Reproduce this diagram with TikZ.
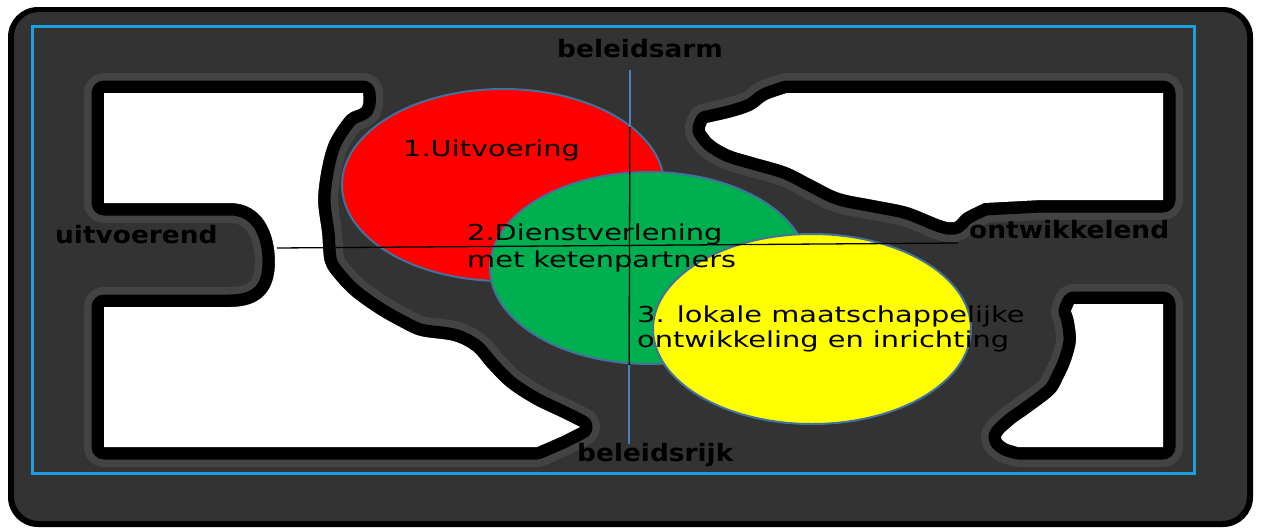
\documentclass[tikz,border=0pt]{standalone}
\usepackage{fontspec}
\setmainfont{DejaVu Sans}
\usepackage{graphicx}
\usetikzlibrary{shapes.geometric}
\definecolor{bggray}{HTML}{333333}
\definecolor{bandgray}{HTML}{434343}
\definecolor{frameblue}{HTML}{1BA1E2}
\definecolor{ellborder}{RGB}{65,113,156}
\definecolor{ellred}{HTML}{FF0000}
\definecolor{ellgreen}{HTML}{00B050}
\definecolor{ellyellow}{HTML}{FFFF00}
\definecolor{axisblue}{HTML}{4F81BD}
\newcommand\regionLeft{(104,93) -- plot[smooth,tension=0.55] coordinates {(363,93) (362,107) (347,115) (330,140) (322,167) (318,200) (322,233) (325,263) (337,281) (353,297) (377,314) (400,327) (420,336) (453,341) (473,351) (487,367) (507,387) (533,404) (560,417) (580,427)} -- (560,437) -- (537,447) -- (104,447) -- (104,307) -- (230,307) .. controls (262,307) and (275,290) .. (275,262) .. controls (275,232) and (262,203) .. (230,203) -- (104,203) -- cycle}
\newcommand\regionTopRight{(705,128) -- plot[smooth,tension=0.55] coordinates {(707,123) (733,117) (753,110) (767,100) (787,93)} -- (1163,93) -- (1163,200) -- (1041,200) -- plot[smooth,tension=0.55] coordinates {(984,203) (964,213) (954,222) (941,220) (908,207) (874,200) (840,193) (813,180) (787,167) (753,157) (730,150) (713,140) (705,130)} -- cycle}
\newcommand\regionBotRight{(1074,304) -- (1163,304) -- (1163,447) -- (1018,447) -- plot[smooth,tension=0.55] coordinates {(1008,444) (1001,437) (1014,424) (1028,414) (1054,394) (1064,377) (1071,361) (1076,341) (1074,321) (1071,311)} -- cycle}
\tikzset{
  band/.style={draw=bandgray, line width=40pt, line join=round},
  rim/.style={draw=black, line width=25pt, line join=round},
  hole/.style={fill=white},
  bubble/.style={draw=ellborder, line width=2pt, ellipse, inner sep=0pt},
  axis/.style={draw=black, line width=1.3pt},
  axisend/.style={draw=axisblue, line width=1.6pt},
  poslabel/.style={anchor=base west, inner sep=0pt, font=\fontsize{24}{28}\selectfont\bfseries},
  itemlabel/.style={anchor=base west, inner sep=0pt, font=\fontsize{22}{26}\selectfont},
}
\begin{document}
\begin{tikzpicture}[x=1pt,y=-1pt]
\useasboundingbox (0,0) rectangle (1261,528);
\fill[white] (0,0) rectangle (1261,528);
% dark glow background
\fill[black, rounded corners=30pt] (8,7) rectangle (1253,527);
\fill[bggray, rounded corners=25pt] (14,12) rectangle (1247,521);
% white holes with black rims
\path[band] \regionLeft;
\path[band] \regionTopRight;
\path[band] \regionBotRight;
\path[rim] \regionLeft;
\path[rim] \regionTopRight;
\path[rim] \regionBotRight;
\path[hole] \regionLeft;
\path[hole] \regionTopRight;
\path[hole] \regionBotRight;
% blue frame
\draw[frameblue, line width=3pt] (32,26) rectangle (1194,473);
% ellipses
\node[bubble, fill=ellred, minimum width=322pt, minimum height=192pt] (red) at (503,185) {};
\node[bubble, fill=ellgreen, minimum width=318pt, minimum height=192pt] (green) at (649,268) {};
\node[bubble, fill=ellyellow, minimum width=318pt, minimum height=190pt] (yellow) at (812,329) {};
% axes
\coordinate (vtop) at (630,70);
\coordinate (vbot) at (629,444);
\coordinate (vtopin) at (630,127);
\coordinate (vbotin) at (629,365);
\coordinate (hleft) at (277,248);
\coordinate (hright) at (958,243);
\draw[axis] (vtop) -- (vbot);
\draw[axisend] (vtop) -- (vtopin);
\draw[axisend] (vbotin) -- (vbot);
\draw[axis] (hleft) -- (hright);
% axis labels
\node[poslabel] (arm) at (557,57) {\scalebox{1.1}[1]{beleidsarm}};
\node[poslabel] (rijk) at (577,461) {\scalebox{1.1}[1]{beleidsrijk}};
\node[poslabel] (uit) at (55,243) {\scalebox{1.1}[1]{uitvoerend}};
\node[poslabel] (ont) at (969,238) {\scalebox{1.1}[1]{ontwikkelend}};
% item labels
\node[itemlabel] (t1) at (403,156) {\scalebox{1.31}[1]{1.Uitvoering}};
\node[itemlabel] (t2a) at (467,240) {\scalebox{1.31}[1]{2.Dienstverlening}};
\node[itemlabel] (t2b) at (467,267) {\scalebox{1.31}[1]{met ketenpartners}};
\node[itemlabel] (t3a) at (637,322) {\scalebox{1.31}[1]{3. lokale maatschappelijke}};
\node[itemlabel] (t3b) at (637,347) {\scalebox{1.31}[1]{ontwikkeling en inrichting}};
\end{tikzpicture}
\end{document}
